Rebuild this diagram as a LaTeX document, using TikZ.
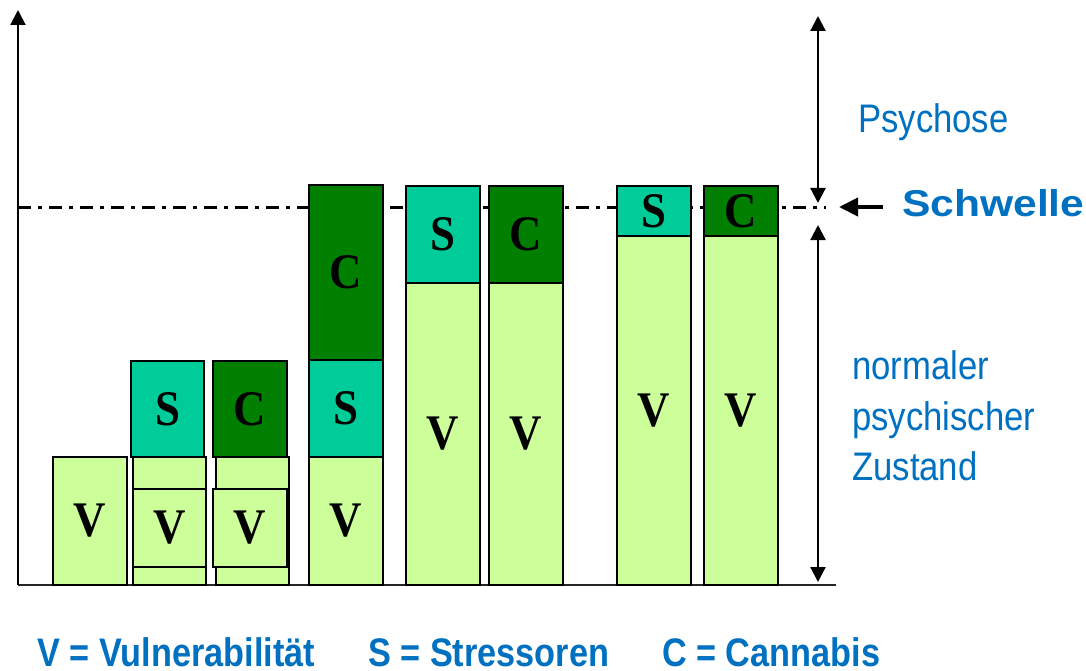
\documentclass[tikz,border=0pt]{standalone}
\usepackage{fontspec}
\usepackage{graphicx}
\setmainfont{Liberation Serif}
\newfontfamily\labelsans{Liberation Sans}
\usetikzlibrary{arrows.meta}
\definecolor{vuln}{HTML}{CCFF99}
\definecolor{stress}{HTML}{00CC99}
\definecolor{cann}{HTML}{007F00}
\definecolor{textblue}{HTML}{0070C0}
% block letters in a slightly narrowed bold serif
\newcommand\blockletter[1]{\scalebox{0.9}[1]{#1}}
\newcommand\sidetext[1]{\scalebox{0.87}[1]{#1}}
\newcommand\keytext[1]{\scalebox{0.86}[1]{#1}}

\begin{document}
\begin{tikzpicture}[x=1bp,y=-1bp,
  block/.style={draw=black, line width=1.6bp, inner sep=0pt, minimum width=74bp,
    font=\fontsize{50}{50}\selectfont\bfseries},
  vblock/.style={block, fill=vuln},
  sblock/.style={block, fill=stress},
  cblock/.style={block, fill=cann},
  innerbox/.style={block, fill=vuln, line width=2.6bp},
  axisline/.style={line width=2bp, black},
  spanarrow/.style={line width=2.2bp, {Triangle[length=15bp,width=15bp]}-{Triangle[length=15bp,width=15bp]}},
  pointer/.style={line width=4bp, -{Triangle[length=19bp,width=18bp]}},
  thresh/.style={line width=3bp, dash pattern=on 13bp off 7bp on 4bp off 7bp},
  sidelabel/.style={anchor=base west, inner sep=0pt, text=textblue, font=\labelsans\fontsize{40}{40}\selectfont},
  keylabel/.style={anchor=base west, inner sep=0pt, text=textblue, font=\labelsans\bfseries\fontsize{40}{40}\selectfont}
]
\useasboundingbox (0,0) rectangle (1086,671);

% axes
\coordinate (origin) at (18,585);
\coordinate (ytop) at (18,10);
\coordinate (xend) at (836,585);
\draw[line width=1.5bp, black!85] (origin) -- (xend);
\draw[axisline, -{Triangle[length=15bp,width=15bp]}] (origin) -- (ytop);

% threshold
\coordinate (thl) at (18,207);
\coordinate (thr) at (826,207);
\draw[thresh] (thl) -- (thr);

% column 1
\node[vblock, minimum height=128bp] (v1) at (90,521) {\blockletter{V}};

% column 2
\node[sblock, minimum width=73bp, minimum height=96bp] (s2) at (167.5,409) {\blockletter{S}};
\node[vblock, minimum width=73bp, minimum height=128bp] (v2) at (169.5,521) {};
\node[innerbox, minimum width=73bp, minimum height=78bp] (v2i) at (169.5,528) {\blockletter{V}};

% column 3
\node[cblock, minimum height=96bp] (c3) at (250,409) {\blockletter{C}};
\node[vblock, minimum width=73bp, minimum height=128bp] (v3) at (252.5,521) {};
\node[innerbox, minimum height=78bp] (v3i) at (250,528) {\blockletter{V}};

% column 4
\node[vblock, minimum height=128bp] (v4) at (346,521) {\blockletter{V}};
\node[sblock, minimum height=97bp] (s4) at (346,408.5) {\blockletter{S}};
\node[cblock, minimum height=175bp] (c4) at (346,272.5) {\blockletter{C}};

% column 5
\node[vblock, minimum height=302bp] (v5) at (443,434) {\blockletter{V}};
\node[sblock, minimum height=97bp] (s5) at (443,234.5) {\blockletter{S}};

% column 6
\node[vblock, minimum height=302bp] (v6) at (526,434) {\blockletter{V}};
\node[cblock, minimum height=97bp] (c6) at (526,234.5) {\blockletter{C}};

% column 7
\node[vblock, minimum height=349bp] (v7) at (654,410.5) {\blockletter{V}};
\node[sblock, minimum height=50bp] (s7) at (654,211) {\blockletter{S}};

% column 8
\node[vblock, minimum height=349bp] (v8) at (741,410.5) {\blockletter{V}};
\node[cblock, minimum height=50bp] (c8) at (741,211) {\blockletter{C}};

% ranges right of the chart
\coordinate (ptop) at (818,16);
\coordinate (pbot) at (818,203);
\coordinate (ntop) at (818,225);
\coordinate (nbot) at (818,582);
\draw[spanarrow] (ptop) -- (pbot);
\draw[spanarrow] (ntop) -- (nbot);

\node[sidelabel] (psy) at (858,133) {\sidetext{Psychose}};
\node[sidelabel] (nor1) at (852,379) {\sidetext{normaler}};
\node[sidelabel] (nor2) at (852,430) {\sidetext{psychischer}};
\node[sidelabel] (nor3) at (852,480) {\sidetext{Zustand}};

% threshold label
\node[anchor=base west, inner sep=0pt, text=textblue, font=\labelsans\bfseries\fontsize{37.5}{37.5}\selectfont]
  (schw) at (902,217) {\scalebox{1.14}[1]{Schwelle}};
\coordinate (ptail) at (883,207);
\coordinate (ptip) at (839,207);
\draw[pointer] (ptail) -- (ptip);

% legend
\node[keylabel] (kv) at (37,666) {\keytext{V = Vulnerabilität}};
\node[keylabel] (ks) at (368,666) {\keytext{S = Stressoren}};
\node[keylabel] (kc) at (662,666) {\keytext{C = Cannabis}};
\end{tikzpicture}
\end{document}
